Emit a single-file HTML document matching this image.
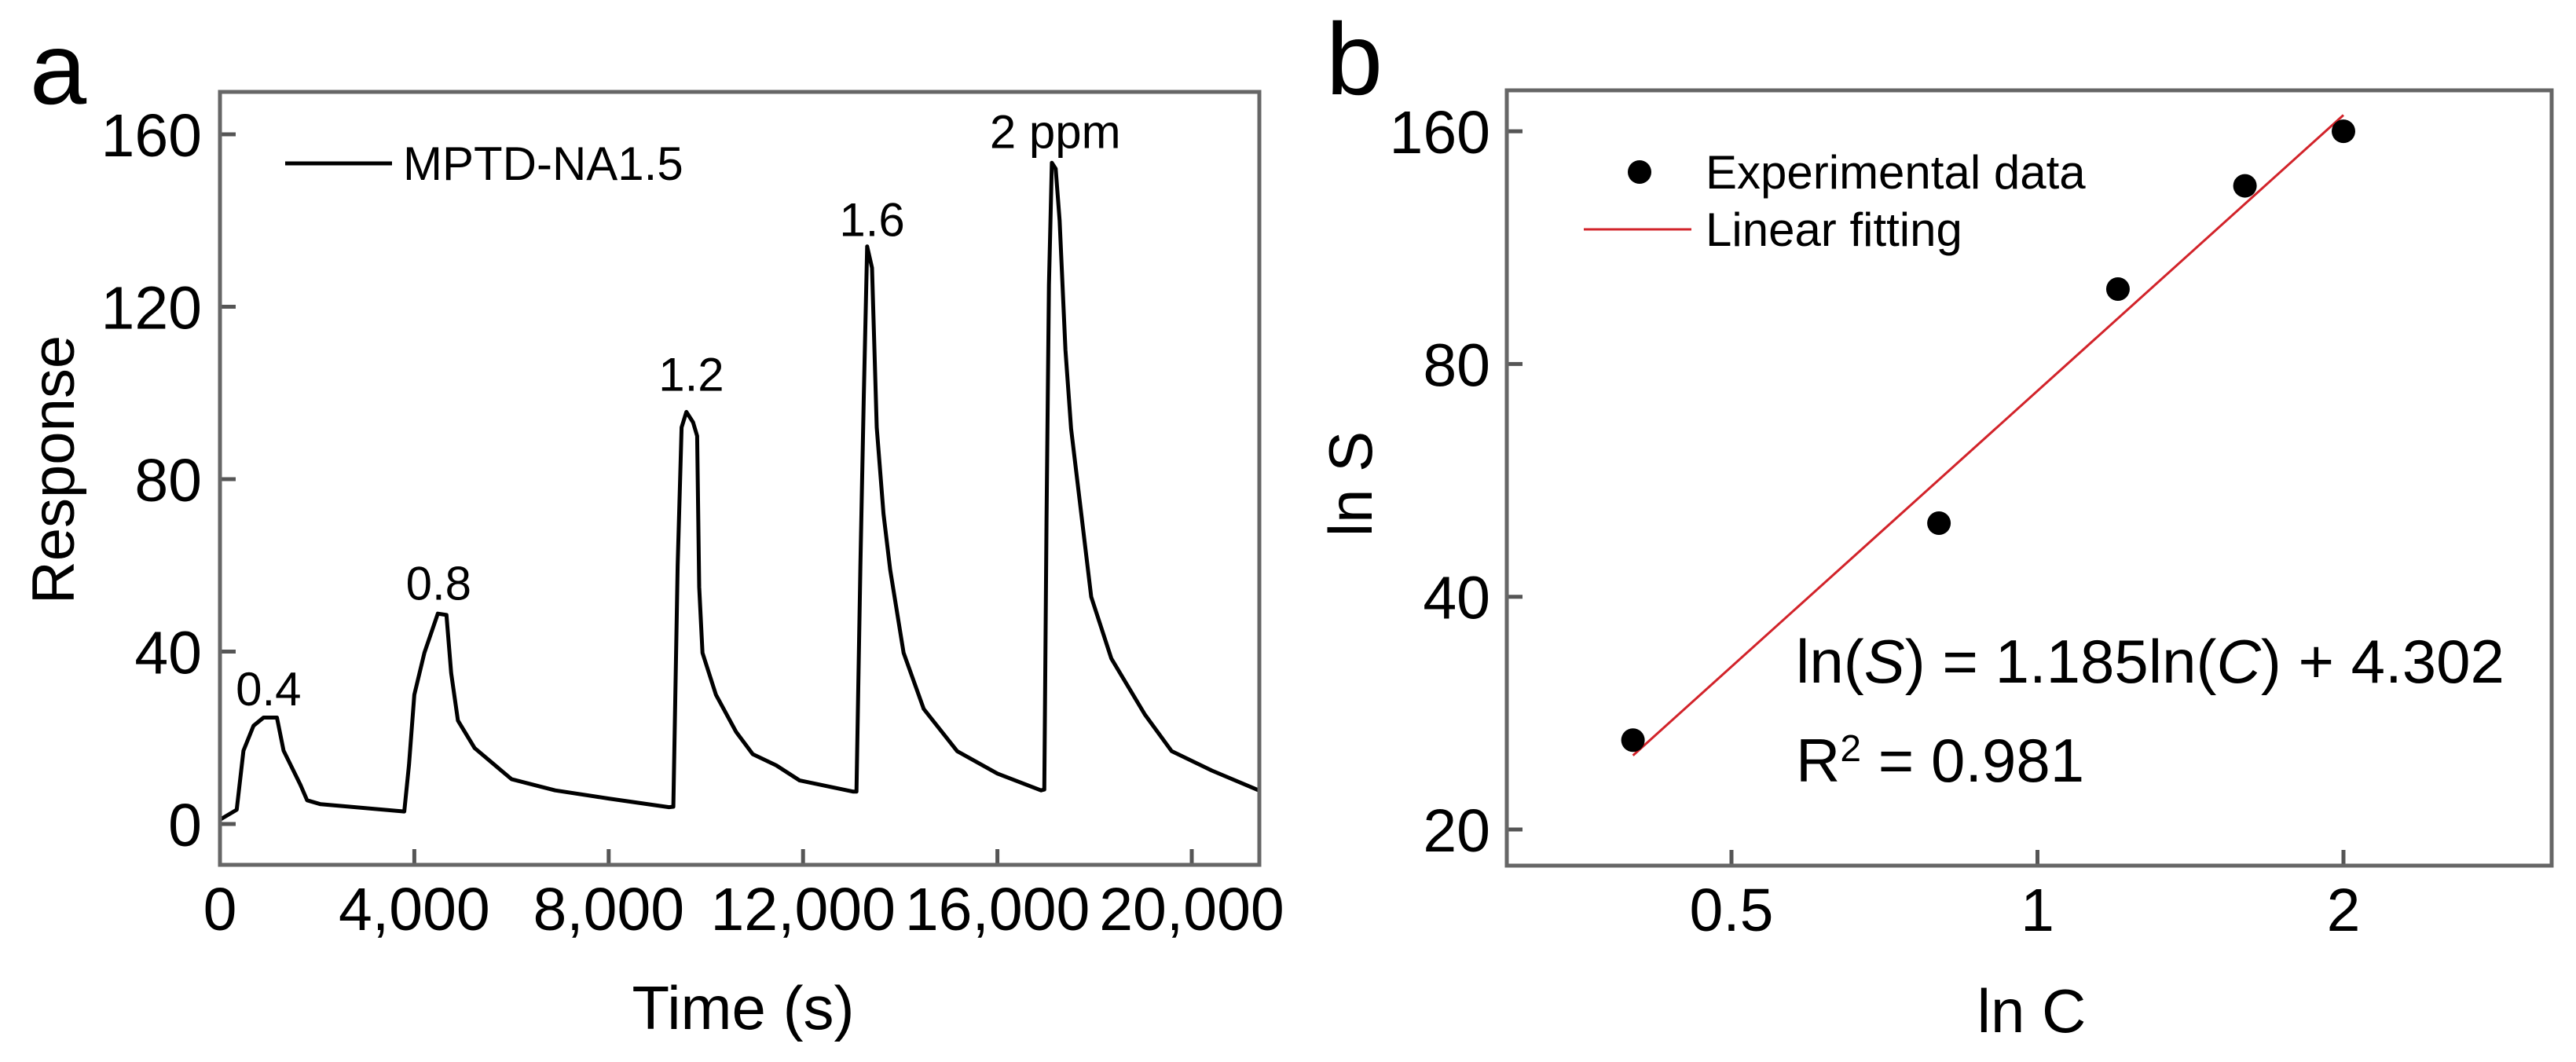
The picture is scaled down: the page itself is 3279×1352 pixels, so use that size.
<!DOCTYPE html>
<html><head><meta charset="utf-8"><style>
html,body{margin:0;padding:0;background:#fff;}
svg{display:block;font-family:"Liberation Sans",Arial,sans-serif;}
</style></head><body>
<svg id="fig" width="3279" height="1352" viewBox="0 0 3279 1352" xmlns="http://www.w3.org/2000/svg">
<rect width="3279" height="1352" fill="#fff"/>
<g id="pa"></g>
<g id="pb"></g>
</svg>
<script>
// Panel a data
const timeS = [0,345,483,690,897,1172,1310,1655,1793,2069,3793,3890,4000,4207,4483,4662,4759,4897,5241,6000,6897,8000,9241,9330,9420,9500,9599,9736,9821,9862,9931,10207,10621,10966,11448,11931,13034,13100,13180,13250,13320,13420,13517,13655,13793,14069,14483,15172,16000,16897,16965,17010,17060,17120,17200,17280,17400,17517,17931,18345,19034,19586,20414,21379];
const response = [1,3.3,17,22.8,24.7,24.7,17,9.1,5.5,4.6,2.9,13.7,30,39.7,48.8,48.5,35,24,17.6,10.4,7.8,5.9,3.9,4,60,92,95.6,93.2,90,55,39.7,30,21.4,16.2,13.6,10.1,7.5,7.5,60,99,134,129,92,72,59,39.7,26.7,16.9,11.7,7.8,8,70,125,153.4,152,140,110,91.7,52.7,38.4,25.4,16.9,12.4,7.8];
const xTicksA = [0,4000,8000,12000,16000,20000];
const xTickLabelsA = ["0","4,000","8,000","12,000","16,000","20,000"];
const yTicksA = [0,40,80,120,160];
const peakLabels = ["0.4","0.8","1.2","1.6","2 ppm"];
const peakLabelT = [1000,4500,9700,13420,17190];
const peakLabelY = [27.5,52,100.5,136.4,156.8];
// Panel b data
const concC = [0.4,0.8,1.2,1.6,2];
const sensS = [26.1,49.8,100,136,160];
const fitSlope = 1.185;
const fitIntercept = 4.302;
const yTicksB = [20,40,80,160];
const xTicksB = [0.5,1,2];
const xTickLabelsB = ["0.5","1","2"];

const NS="http://www.w3.org/2000/svg";
function mk(parent,tag,attrs,text){const e=document.createElementNS(NS,tag);for(const k in attrs)e.setAttribute(k,attrs[k]);if(text!==undefined)e.textContent=text;parent.appendChild(e);return e;}

// ---- Panel a ----
const pa=document.getElementById('pa');
const A={l:280,r:1603,t:117,b:1101};
const xa=t=>A.l+(t-0)*(1517-280)/20000;
const ya=v=>1049-v*(1049-171)/160;
let e;
e=mk(pa,'text',{x:74,y:132,'font-size':130,'text-anchor':'middle'},'a');

xTicksA.forEach((t,i)=>{
  e=mk(pa,'line',{x1:xa(t),x2:xa(t),y1:A.b,y2:A.b-20,stroke:'#555','stroke-width':5});
  
  e=mk(pa,'text',{x:xa(t),y:1184,'font-size':77,'text-anchor':'middle'},xTickLabelsA[i]);
  
});
yTicksA.forEach(v=>{
  e=mk(pa,'line',{x1:A.l,x2:A.l+20,y1:ya(v),y2:ya(v),stroke:'#555','stroke-width':5});
  
  e=mk(pa,'text',{x:257,y:ya(v)+28,'font-size':77,'text-anchor':'end'},String(v));
  
});
let d='';timeS.forEach((t,i)=>{d+=(i?'L':'M')+xa(t).toFixed(1)+','+ya(response[i]).toFixed(1);});
e=mk(pa,'path',{d:d,fill:'none',stroke:'#000','stroke-width':5,'stroke-linejoin':'round'});

peakLabels.forEach((s,i)=>{
  e=mk(pa,'text',{x:xa(peakLabelT[i]),y:ya(peakLabelY[i]),'font-size':60,'text-anchor':'middle'},s);
  
});
e=mk(pa,'line',{x1:363,x2:499,y1:208,y2:208,stroke:'#000','stroke-width':5});

e=mk(pa,'text',{x:513,y:229,'font-size':60},'MPTD-NA1.5');

e=mk(pa,'rect',{x:A.l,y:A.t,width:A.r-A.l,height:A.b-A.t,fill:'none',stroke:'#666','stroke-width':5});

e=mk(pa,'text',{x:946,y:1310,'font-size':78,'text-anchor':'middle'},'Time (s)');

e=mk(pa,'text',{x:0,y:0,'font-size':76,'text-anchor':'middle',transform:'translate(94,598) rotate(-90)'},'Response');


// ---- Panel b ----
const pb=document.getElementById('pb');
const B={l:1918,r:3248,t:115,b:1102};
const xb=c=>2204+Math.log2(c/0.5)*389.5;
const yb=s=>1056-Math.log2(s/20)*296.3;
e=mk(pb,'text',{x:1724,y:120,'font-size':130,'text-anchor':'middle'},'b');

xTicksB.forEach((c,i)=>{
  e=mk(pb,'line',{x1:xb(c),x2:xb(c),y1:B.b,y2:B.b-20,stroke:'#555','stroke-width':5});
  
  e=mk(pb,'text',{x:xb(c),y:1185,'font-size':77,'text-anchor':'middle'},xTickLabelsB[i]);
  
});
yTicksB.forEach(v=>{
  e=mk(pb,'line',{x1:B.l,x2:B.l+20,y1:yb(v),y2:yb(v),stroke:'#555','stroke-width':5});
  
  e=mk(pb,'text',{x:1897,y:yb(v)+28,'font-size':77,'text-anchor':'end'},String(v));
  
});
const fitY=c=>Math.exp(fitSlope*Math.log(c)+fitIntercept);
const c0=concC[0],c1=concC[concC.length-1];
e=mk(pb,'line',{x1:xb(c0),y1:yb(fitY(c0)),x2:xb(c1),y2:yb(fitY(c1)),stroke:'#d2232a','stroke-width':3});

concC.forEach((c,i)=>{
  e=mk(pb,'circle',{cx:xb(c),cy:yb(sensS[i]),r:15,fill:'#000'});
  
});
e=mk(pb,'circle',{cx:2087,cy:219,r:15,fill:'#000'});

e=mk(pb,'text',{x:2171,y:240,'font-size':60},'Experimental data');

e=mk(pb,'line',{x1:2016,x2:2153,y1:292,y2:292,stroke:'#d2232a','stroke-width':3});

e=mk(pb,'text',{x:2171,y:313,'font-size':60},'Linear fitting');

e=mk(pb,'text',{x:2286,y:869,'font-size':78},'');
e.innerHTML='ln(<tspan font-style="italic">S</tspan>) = 1.185ln(<tspan font-style="italic">C</tspan>) + 4.302';

e=mk(pb,'text',{x:2286,y:995,'font-size':78},'');
e.innerHTML='R<tspan font-size="48" dy="-26">2</tspan><tspan dy="26"> = 0.981</tspan>';

e=mk(pb,'rect',{x:B.l,y:B.t,width:B.r-B.l,height:B.b-B.t,fill:'none',stroke:'#666','stroke-width':5});

e=mk(pb,'text',{x:2586,y:1314,'font-size':78,'text-anchor':'middle'},'ln C');

e=mk(pb,'text',{x:0,y:0,'font-size':78,'text-anchor':'middle',transform:'translate(1746,616) rotate(-90)'},'ln S');

</script>
</body></html>
